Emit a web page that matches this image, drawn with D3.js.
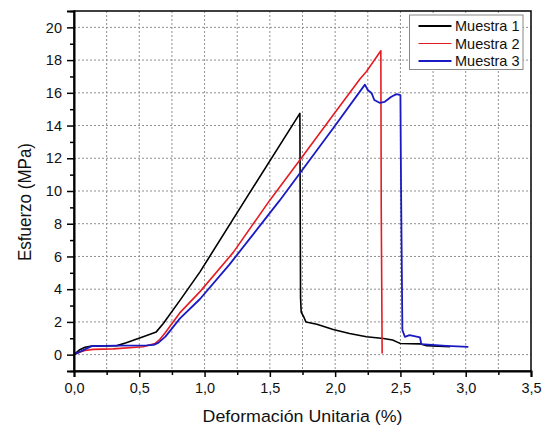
<!DOCTYPE html>
<html>
<head>
<meta charset="utf-8">
<script src="https://cdn.jsdelivr.net/npm/d3@7"></script>
<style>
  body { margin: 0; background: #fff; }
  text { font-family: "Liberation Sans", Arial, sans-serif; fill: #111; }
  .grid line { stroke: #8f8f8f; stroke-width: 1; stroke-dasharray: 2,2; }
  .axis path, .axis line { stroke: #000; }
</style>
</head>
<body>
<div id="chart"></div>
<script>
/*------------------------------
 GLOBAL CONSTANTS
 ----------------------------*/
const SVG_WIDTH = 547;
const SVG_HEIGHT = 427;
const MARGIN = {top: 11, right: 16, bottom: 56, left: 74};
const WIDTH = SVG_WIDTH - MARGIN.left - MARGIN.right;
const HEIGHT = SVG_HEIGHT - MARGIN.top - MARGIN.bottom;

// tick values
const X_TICKS = [0, 0.5, 1, 1.5, 2, 2.5, 3, 3.5];
const X_MINOR = [0.25, 0.75, 1.25, 1.75, 2.25, 2.75, 3.25];
const Y_TICKS = [0, 2, 4, 6, 8, 10, 12, 14, 16, 18, 20];
const Y_MINOR = [-1, 1, 3, 5, 7, 9, 11, 13, 15, 17, 19, 21];

// Muestra 1
const m1X = [0, 0.04, 0.084, 0.135, 0.33, 0.40, 0.53, 0.63, 0.684, 0.81, 0.965, 1.31, 1.73, 1.735, 1.74, 1.76, 1.776, 1.86, 1.985, 2.11, 2.24, 2.37, 2.44, 2.48, 2.5, 2.65, 2.7, 2.88];
const m1Y = [0, 0.28, 0.45, 0.52, 0.55, 0.72, 1.09, 1.39, 1.9, 3.3, 5.06, 9.44, 14.74, 3.5, 2.6, 2.3, 2.0, 1.86, 1.54, 1.29, 1.09, 0.99, 0.89, 0.75, 0.68, 0.66, 0.55, 0.48];

// Muestra 2
const m2X = [0, 0.04, 0.084, 0.148, 0.3, 0.53, 0.62, 0.66, 0.7, 0.81, 0.965, 1.22, 1.5, 1.73, 1.985, 2.19, 2.24, 2.35, 2.353, 2.36];
const m2Y = [0, 0.15, 0.25, 0.32, 0.35, 0.48, 0.68, 0.95, 1.35, 2.55, 3.85, 6.25, 9.44, 11.9, 14.65, 16.85, 17.3, 18.57, 9, 0.07];

// Muestra 3
const m3X = [0, 0.04, 0.084, 0.135, 0.33, 0.556, 0.61, 0.645, 0.7, 0.76, 0.81, 0.965, 1.19, 1.577, 1.73, 1.985, 2.228, 2.25, 2.28, 2.30, 2.34, 2.38, 2.43, 2.47, 2.50, 2.505, 2.515, 2.534, 2.57, 2.65, 2.66, 2.85, 3.02];
const m3Y = [0, 0.15, 0.32, 0.52, 0.55, 0.56, 0.6, 0.72, 1.1, 1.7, 2.2, 3.4, 5.5, 9.44, 11.09, 13.84, 16.5, 16.17, 15.97, 15.56, 15.39, 15.45, 15.76, 15.92, 15.86, 10, 1.5, 1.09, 1.19, 1.05, 0.64, 0.54, 0.48];

const SERIES = [
  {name: "Muestra 1", xs: m1X, ys: m1Y, color: "#000000", width: 1.6, legendWidth: 2.2},
  {name: "Muestra 2", xs: m2X, ys: m2Y, color: "#e41c22", width: 1.6, legendWidth: 1.2},
  {name: "Muestra 3", xs: m3X, ys: m3Y, color: "#1a1ac4", width: 1.8, legendWidth: 2.2}
];

/*------------------------------
 CHART
-----------------------------*/
const svg = d3.select("#chart").append("svg")
  .attr("width", SVG_WIDTH).attr("height", SVG_HEIGHT);
const chartGroup = svg.append("g")
  .attr("transform", `translate(${MARGIN.left}, ${MARGIN.top})`);

const xScale = d3.scaleLinear().domain([0, 3.5]).range([0, WIDTH]);
const yScale = d3.scaleLinear().domain([-1, 21]).range([HEIGHT, 0]);
const fmt = d => d3.format(".1f")(d).replace(".", ",");

// grid
const grid = chartGroup.append("g").classed("grid", true);
grid.selectAll("line.v")
  .data(X_TICKS.concat(X_MINOR).filter(d => d > 0 && d < 3.5))
  .enter().append("line")
  .attr("x1", d => xScale(d)).attr("x2", d => xScale(d))
  .attr("y1", 0).attr("y2", HEIGHT);
grid.selectAll("line.h")
  .data(Y_TICKS)
  .enter().append("line")
  .attr("x1", 0).attr("x2", WIDTH)
  .attr("y1", d => yScale(d)).attr("y2", d => yScale(d));

// curves
const line = d3.line().x(d => xScale(d[0])).y(d => yScale(d[1]));
SERIES.forEach(s => {
  chartGroup.append("path")
    .datum(s.xs.map((x, i) => [x, s.ys[i]]))
    .attr("fill", "none")
    .attr("stroke", s.color)
    .attr("stroke-width", s.width)
    .attr("stroke-linejoin", "round")
    .attr("d", line);
});

// frame
chartGroup.append("rect")
  .attr("x", 0).attr("y", 0).attr("width", WIDTH).attr("height", HEIGHT)
  .attr("fill", "none").attr("stroke", "#000").attr("stroke-width", 1.5);

// axes
chartGroup.append("g").classed("axis", true)
  .attr("transform", `translate(0, ${HEIGHT})`)
  .call(d3.axisBottom(xScale).tickValues(X_TICKS).tickFormat(fmt).tickSize(6).tickPadding(6));
chartGroup.append("g").classed("axis", true)
  .attr("transform", `translate(0, ${HEIGHT})`)
  .call(d3.axisBottom(xScale).tickValues(X_MINOR).tickFormat("").tickSize(4))
  .select(".domain").remove();
chartGroup.append("g").classed("axis", true)
  .call(d3.axisLeft(yScale).tickValues(Y_TICKS).tickSize(7).tickPadding(5));
chartGroup.append("g").classed("axis", true)
  .call(d3.axisLeft(yScale).tickValues(Y_MINOR).tickFormat("").tickSize(4))
  .select(".domain").remove();

chartGroup.selectAll(".axis .domain").attr("stroke-width", 2);
chartGroup.selectAll(".axis line").attr("stroke-width", 1.5);
chartGroup.selectAll(".axis text").style("font-size", "14.5px").attr("fill", "#111");

// axis titles
svg.append("text")
  .attr("transform", `translate(${MARGIN.left + WIDTH / 2}, 422) scale(1.08, 1)`)
  .attr("text-anchor", "middle")
  .style("font-size", "16.5px")
  .text("Deformación Unitaria (%)");
svg.append("text")
  .attr("transform", `translate(31, 202) scale(1.05, 1) rotate(-90)`)
  .attr("text-anchor", "middle")
  .style("font-size", "17px")
  .text("Esfuerzo (MPa)");

// legend
const legend = svg.append("g").attr("transform", "translate(409.5, 15)");
legend.append("rect")
  .attr("width", 113.5).attr("height", 54.5)
  .attr("fill", "#fff").attr("stroke", "#888").attr("stroke-width", 1);
SERIES.forEach((s, i) => {
  let row = legend.append("g").attr("transform", `translate(0, ${11 + i * 17.5})`);
  row.append("line")
    .attr("x1", 9).attr("x2", 42).attr("y1", 0).attr("y2", 0)
    .attr("stroke", s.color).attr("stroke-width", s.legendWidth);
  row.append("text")
    .attr("x", 45.5).attr("y", 5)
    .style("font-size", "14.5px")
    .text(s.name);
});
</script>
</body>
</html>
